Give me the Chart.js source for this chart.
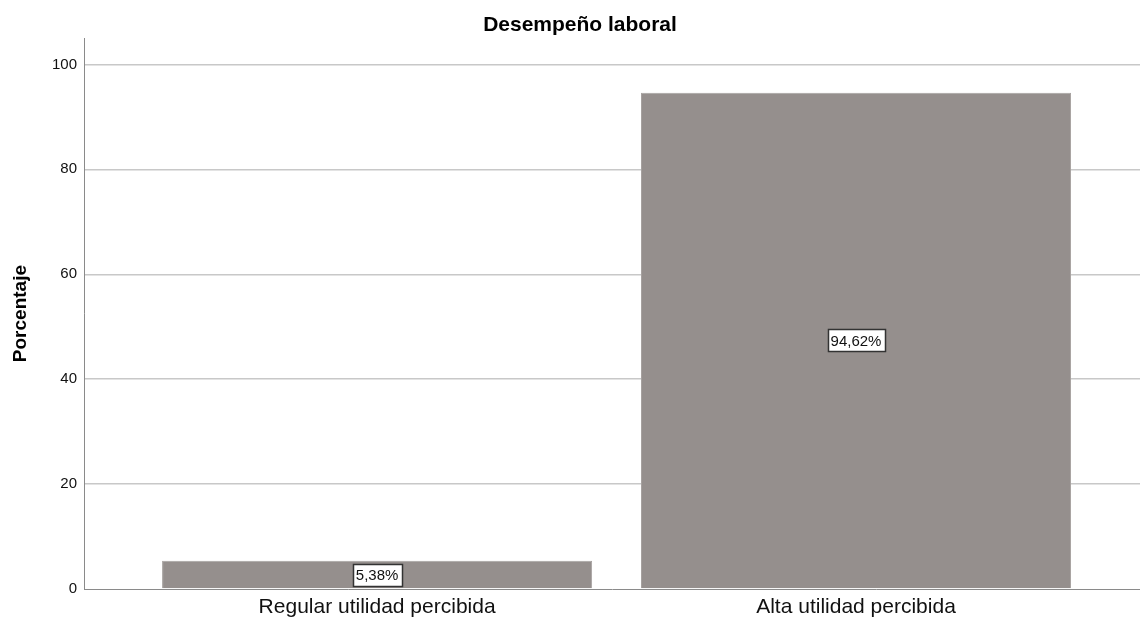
<!DOCTYPE html>
<html>
<head>
<meta charset="utf-8">
<script src="https://cdn.jsdelivr.net/npm/chart.js"></script>
<style>
  html,body{margin:0;padding:0;background:#fff}
  #wrap{width:1140px;height:622px}
</style>
</head>
<body>
<div id="wrap"><canvas id="c" width="1140" height="622"></canvas></div>
<script>
const categories=["Regular utilidad percibida","Alta utilidad percibida"];
const percentages=[5.38,94.62];
const yTicks=[0,20,40,60,80,100];

const FONT="'Liberation Sans', Arial, sans-serif";

// data labels in little white boxes, centred on each bar
const boxLabels={
  id:"boxLabels",
  afterDatasetsDraw(chart){
    const ctx=chart.ctx;
    const meta=chart.getDatasetMeta(0);
    ctx.save();
    ctx.font="15px "+FONT;
    ctx.textAlign="center";
    ctx.textBaseline="middle";
    meta.data.forEach((bar,i)=>{
      const p=bar.getProps(["x","y","base"],true);
      const txt=percentages[i].toFixed(2).replace(".",",")+"%";
      const w=Math.round(ctx.measureText(txt).width+6), h=22;
      const cy=(p.y+p.base)/2;
      const bx=Math.round(p.x-w/2)+0.5, by=Math.round(cy-h/2)+0.5;
      ctx.fillStyle="#fff";
      ctx.fillRect(bx,by,w,h);
      ctx.strokeStyle="#333";
      ctx.lineWidth=1.5;
      ctx.strokeRect(bx,by,w,h);
      ctx.fillStyle="#111";
      ctx.fillText(txt,p.x,cy+1);
    });
    ctx.restore();
  }
};

new Chart(document.getElementById("c"),{
  type:"bar",
  data:{
    datasets:[{
      data:percentages.map((v,i)=>({x:i,y:v})),
      backgroundColor:"#958f8d",
      borderColor:"#a7a2a0",
      borderWidth:1,
      categoryPercentage:1,
      barPercentage:0.898
    }]
  },
  options:{
    responsive:false,
    animation:false,
    devicePixelRatio:1,
    // left padding moves the title centre to the right a little
    layout:{padding:{left:20,right:0,top:0,bottom:0}},
    plugins:{
      legend:{display:false},
      tooltip:{enabled:false},
      title:{
        display:true,
        text:"Desempeño laboral",
        color:"#000",
        font:{family:FONT,size:21,weight:"bold"},
        padding:{top:13,bottom:0}
      }
    },
    scales:{
      x:{
        type:"linear",
        offset:false,
        bounds:"data",
        min:-0.612,
        max:1.593,
        afterBuildTicks(s){ s.ticks=categories.map((c,i)=>({value:i})); },
        afterFit(s){ s.height=33; },
        ticks:{
          callback:v=>categories[v],
          color:"#111",
          font:{family:FONT,size:21},
          padding:6,
          maxRotation:0,
          autoSkip:false
        },
        grid:{display:false,drawTicks:false,offset:false},
        border:{display:true,color:"#8a8a8a",width:1}
      },
      y:{
        min:0,
        max:105,
        afterBuildTicks(s){ s.ticks=yTicks.map(v=>({value:v})); },
        afterFit(s){ s.width=64; },
        ticks:{
          color:"#111",
          font:{family:FONT,size:15},
          padding:7
        },
        grid:{
          color:ctx=>ctx.tick&&ctx.tick.value===0?"rgba(0,0,0,0)":"#c8c8c8",
          lineWidth:1.5,
          drawTicks:false
        },
        border:{display:true,color:"#8a8a8a",width:1},
        title:{
          display:true,
          text:"Porcentaje",
          color:"#000",
          font:{family:FONT,size:19,weight:"bold"},
          padding:{top:-11,bottom:0}
        }
      }
    }
  },
  plugins:[boxLabels]
});
</script>
</body>
</html>
